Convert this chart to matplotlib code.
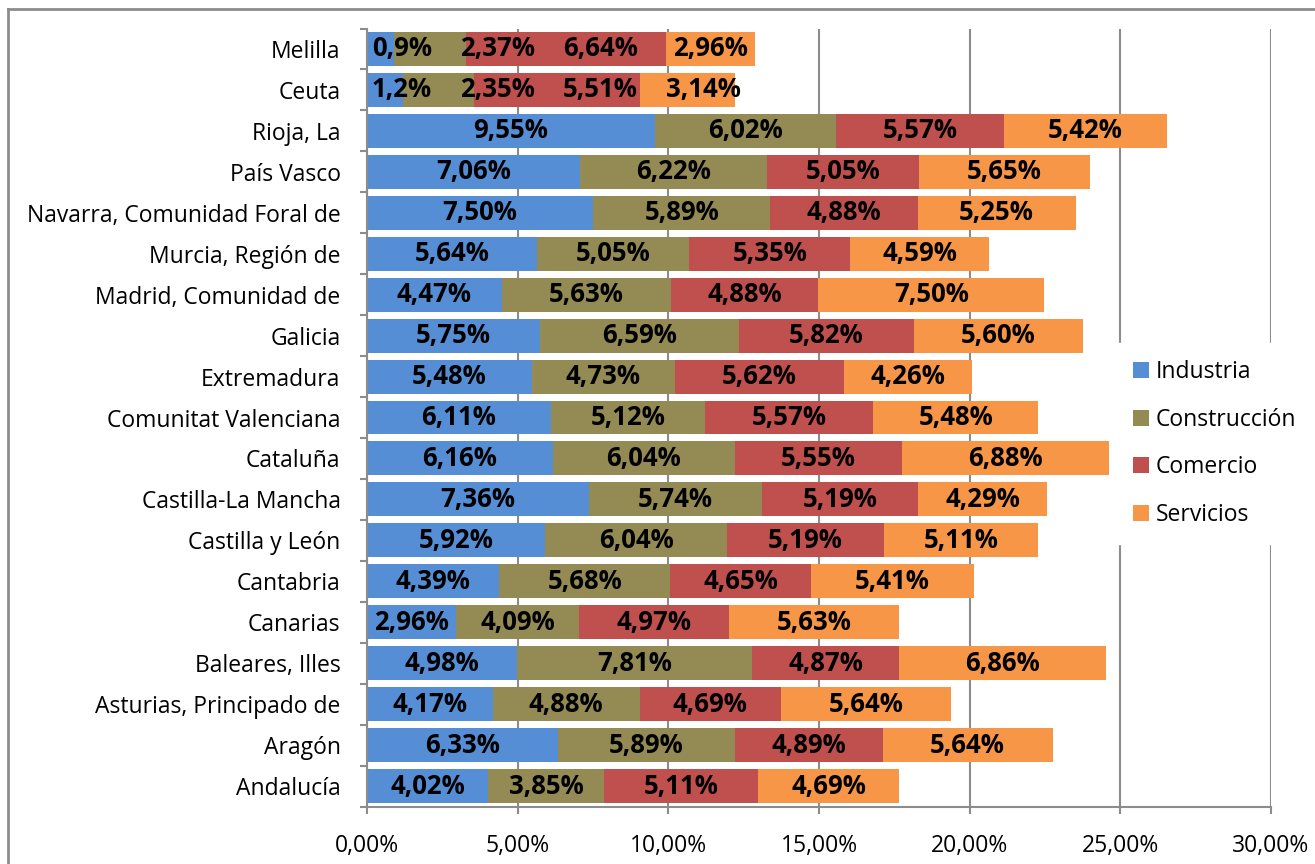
import numpy as np
import matplotlib
matplotlib.use("Agg")
import matplotlib.pyplot as plt
from matplotlib.lines import Line2D
from matplotlib.ticker import FuncFormatter, FixedLocator

plt.rcParams['font.family'] = ['Open Sans', 'DejaVu Sans']

# categorías de abajo hacia arriba
regiones = [
    "Andalucía", "Aragón", "Asturias, Principado de", "Baleares, Illes",
    "Canarias", "Cantabria", "Castilla y León", "Castilla-La Mancha",
    "Cataluña", "Comunitat Valenciana", "Extremadura", "Galicia",
    "Madrid, Comunidad de", "Murcia, Región de", "Navarra, Comunidad Foral de",
    "País Vasco", "Rioja, La", "Ceuta", "Melilla",
]

industria = [4.02, 6.33, 4.17, 4.98, 2.96, 4.39, 5.92, 7.36, 6.16, 6.11,
             5.48, 5.75, 4.47, 5.64, 7.50, 7.06, 9.55, 1.2, 0.9]
construccion = [3.85, 5.89, 4.88, 7.81, 4.09, 5.68, 6.04, 5.74, 6.04, 5.12,
                4.73, 6.59, 5.63, 5.05, 5.89, 6.22, 6.02, 2.35, 2.37]
comercio = [5.11, 4.89, 4.69, 4.87, 4.97, 4.65, 5.19, 5.19, 5.55, 5.57,
            5.62, 5.82, 4.88, 5.35, 4.88, 5.05, 5.57, 5.51, 6.64]
servicios = [4.69, 5.64, 5.64, 6.86, 5.63, 5.41, 5.11, 4.29, 6.88, 5.48,
             4.26, 5.60, 7.50, 4.59, 5.25, 5.65, 5.42, 3.14, 2.96]

series = ["Industria", "Construcción", "Comercio", "Servicios"]
valores = [industria, construccion, comercio, servicios]
colores = ["#558ED5", "#948A54", "#C0504D", "#F79646"]


def etiqueta(v):
    # Ceuta y Melilla vienen con un decimal en la fuente
    s = f"{v:.1f}" if v < 2 else f"{v:.2f}"
    return s.replace(".", ",") + "%"


fig = plt.figure(figsize=(13.15, 8.64), dpi=100)
ax = fig.add_axes([367 / 1315, 1 - 806.5 / 864, (1271 - 367) / 1315, (806.5 - 28.5) / 864])

y = np.arange(len(regiones))
izq = np.zeros(len(regiones))
textos = []
for nombre, vals, col in zip(series, valores, colores):
    vals = np.array(vals)
    ax.barh(y, vals, left=izq, height=0.83, color=col, label=nombre, zorder=2)
    fila = []
    for i, v in enumerate(vals):
        t = ax.text(izq[i] + v / 2, y[i], etiqueta(v), ha="center", va="center",
                    fontsize=18.5, fontweight="bold", color="black", zorder=3)
        fila.append(t)
    textos.append(fila)
    izq = izq + vals

ax.set_xlim(0, 30)
ax.set_ylim(-0.5, len(regiones) - 0.5)
ax.set_xticks(np.arange(0, 31, 5))
ax.xaxis.set_major_formatter(FuncFormatter(lambda v, p: f"{v:.2f}".replace(".", ",") + "%"))
ax.set_yticks(y)
ax.set_yticklabels(regiones)
ax.yaxis.set_minor_locator(FixedLocator(np.arange(-0.5, len(regiones), 1)))

gris = "#8C8C8C"
ax.grid(axis="x", color=gris, linewidth=1.5, zorder=0)
for lado in ["top", "right"]:
    ax.spines[lado].set_visible(False)
for lado in ["left", "bottom"]:
    ax.spines[lado].set_color(gris)
    ax.spines[lado].set_linewidth(1.5)
ax.tick_params(axis="x", length=5, width=1.5, color=gris, labelsize=16.5, pad=15)
ax.tick_params(axis="y", which="major", length=0, labelsize=16.5, pad=19)
ax.tick_params(axis="y", which="minor", length=5, width=1.5, color=gris)

# etiquetas amontonadas (Ceuta, Melilla): se desplazan hacia la derecha
fig.canvas.draw()
rend = fig.canvas.get_renderer()
px_por_unidad = ax.transData.transform((1, 0))[0] - ax.transData.transform((0, 0))[0]
x0_px = ax.transData.transform((0, 0))[0]
for i in range(len(regiones)):
    limite = x0_px + 5
    for fila in textos:
        t = fila[i]
        bb = t.get_window_extent(rend)
        if bb.x0 < limite:
            desp = (limite - bb.x0) / px_por_unidad
            xx, yy = t.get_position()
            t.set_position((xx + desp, yy))
            limite = bb.x1 + (limite - bb.x0) + 28
        else:
            limite = bb.x1 + 28

leg = fig.legend(loc="upper left", bbox_to_anchor=(1116 / 1315, 1 - 343 / 864),
                 frameon=True, fontsize=16.5, handlelength=0.7, handleheight=0.7,
                 handletextpad=0.3, labelspacing=1.03, borderpad=0.75,
                 borderaxespad=0, fancybox=False)
leg.get_frame().set_facecolor("white")
leg.get_frame().set_edgecolor("white")
leg.get_frame().set_alpha(1)

# marco exterior del gráfico
fig.add_artist(Line2D([8 / 1315, 8 / 1315], [0, 1 - 9 / 864], transform=fig.transFigure,
                      color=gris, linewidth=2))
fig.add_artist(Line2D([8 / 1315, 1], [1 - 9 / 864, 1 - 9 / 864], transform=fig.transFigure,
                      color=gris, linewidth=2))

fig.savefig("out.png", dpi=100)
